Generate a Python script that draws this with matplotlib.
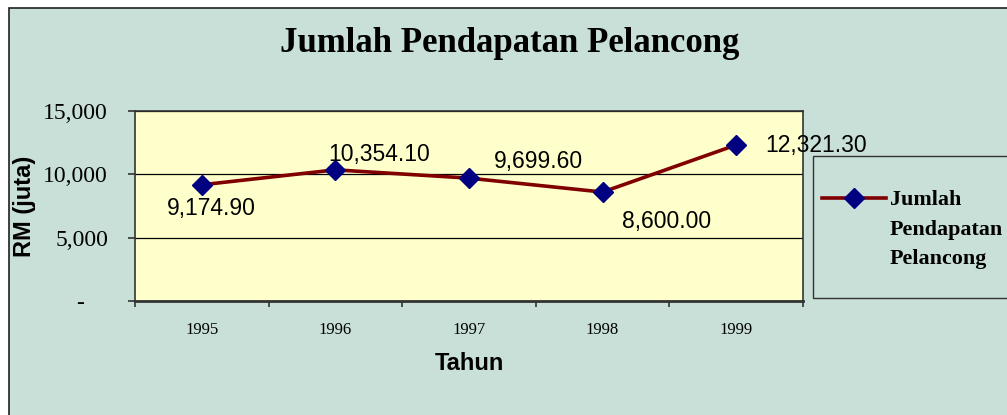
import matplotlib
matplotlib.use("Agg")
import matplotlib.pyplot as plt
from matplotlib.patches import Rectangle
from matplotlib.lines import Line2D
from matplotlib.ticker import FixedLocator, NullFormatter

years = ["1995", "1996", "1997", "1998", "1999"]
values = [9174.90, 10354.10, 9699.60, 8600.00, 12321.30]
value_labels = ["9,174.90", "10,354.10", "9,699.60", "8,600.00", "12,321.30"]
y_ticks = [0, 5000, 10000, 15000]
y_tick_labels = ["-    ", "5,000", "10,000", "15,000"]
series_name = ["Jumlah", "Pendapatan", "Pelancong"]

W, H = 1007, 415
fig = plt.figure(figsize=(W / 100, H / 100), dpi=100)
fig.patch.set_facecolor("white")

bg = "#C8E0D8"
line_col = "#800000"
mark_col = "#000080"
fig.patches.append(Rectangle((9 / W, -0.1), 1.2, (H - 8) / H + 0.1, transform=fig.transFigure,
                             facecolor=bg, edgecolor="#202020", linewidth=1.2, zorder=-10))

L, R, T, B = 135, 803, 111, 301
ax = fig.add_axes([L / W, (H - B) / H, (R - L) / W, (B - T) / H])
ax.set_zorder(2)
ax.set_facecolor("#FFFFCC")
x = list(range(len(years)))
ax.plot(x, values, color=line_col, linewidth=2.6, marker="D", markersize=10,
        markerfacecolor=mark_col, markeredgecolor=mark_col, zorder=3, clip_on=False)

ax.set_xlim(-0.5, len(years) - 0.5)
ax.set_ylim(0, 15000)
ax.yaxis.set_major_locator(FixedLocator(y_ticks))
ax.set_yticklabels(y_tick_labels, fontfamily="Liberation Serif", fontsize=17)
ax.grid(axis="y", color="black", linewidth=0.9)
ax.set_axisbelow(True)

ax.set_xticks([i - 0.5 for i in range(len(years) + 1)])
ax.xaxis.set_major_formatter(NullFormatter())
ax.set_xticks(x, minor=True)
ax.set_xticklabels(years, minor=True, fontfamily="Liberation Serif", fontsize=12)
ax.tick_params(axis="x", which="minor", length=0, pad=15)
ax.tick_params(axis="x", which="major", length=4.3, width=1.2, direction="out", color="#333333")
ax.tick_params(axis="y", length=5, width=1.2, direction="out", color="#333333", pad=14.4)
for s in ax.spines.values():
    s.set_color("#333333")
    s.set_linewidth(1.2)
ax.spines["bottom"].set_linewidth(2)

offsets = [(7.2, -21.6), (31.7, 6.5), (49.7, 7.2), (46, -25.9), (57.6, -5)]
for xi, v, lab, (dx, dy) in zip(x, values, value_labels, offsets):
    ax.annotate(lab, (xi, v), xytext=(dx, dy), textcoords="offset points",
                ha="center", va="baseline", fontfamily="Liberation Sans", fontsize=16.5,
                color="black", zorder=4, annotation_clip=False)

ax.set_xlabel("Tahun", fontfamily="Liberation Sans", fontweight="bold", fontsize=17)
ax.xaxis.label.set_va("center")
ax.xaxis.set_label_coords(0.5, (B - 363) / (B - T))
ax.set_ylabel("RM (juta)", fontfamily="Liberation Sans", fontweight="bold", fontsize=17)
ax.yaxis.label.set_va("center")
ax.yaxis.label.set_ha("center")
ax.yaxis.set_label_coords((25 - L) / (R - L), 0.5)

fig.text(510 / W, 1 - 52 / H, "Jumlah Pendapatan Pelancong", ha="center", va="baseline",
         fontfamily="Liberation Serif", fontweight="bold", fontsize=25)

# legend box (manual)
fig.patches.append(Rectangle((813 / W, (H - 298) / H), 1, 142 / H, transform=fig.transFigure,
                             facecolor=bg, edgecolor="#333333", linewidth=1.0, zorder=-5))
ly = 1 - 198 / H
fig.lines.append(Line2D([822 / W, 886 / W], [ly, ly], transform=fig.transFigure,
                        color=line_col, linewidth=2.6))
fig.lines.append(Line2D([854 / W], [ly], transform=fig.transFigure, marker="D", markersize=10,
                        markerfacecolor=mark_col, markeredgecolor=mark_col, linestyle="none"))
for i, word in enumerate(series_name):
    fig.text(890 / W, 1 - (205 + 29.5 * i) / H, word, ha="left", va="baseline",
             fontfamily="Liberation Serif", fontweight="bold", fontsize=15.8)

fig.savefig("out.png", dpi=100, facecolor=fig.get_facecolor())
